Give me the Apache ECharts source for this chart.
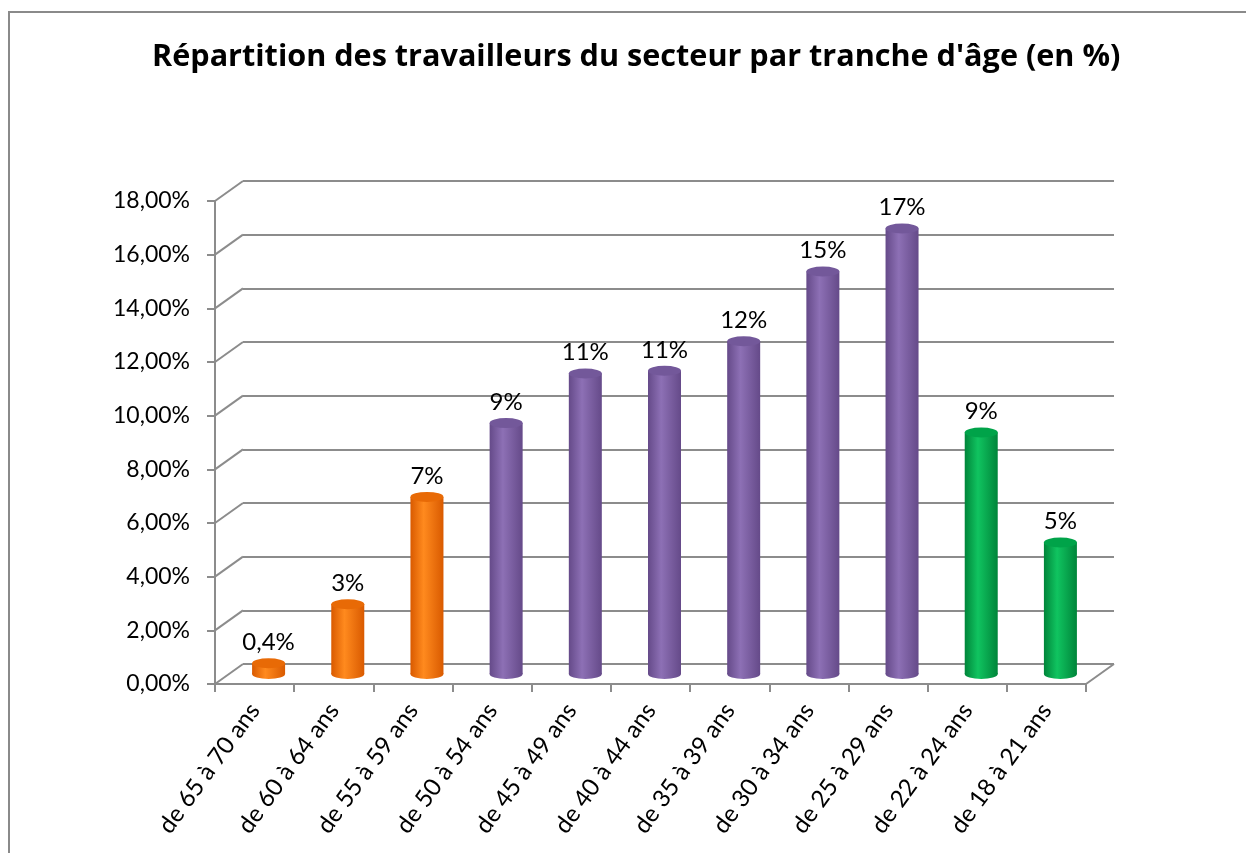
<!DOCTYPE html>
<html>
<head>
<meta charset="utf-8">
<title>Répartition par tranche d'âge</title>
<script src="https://cdn.jsdelivr.net/npm/echarts@6/dist/echarts.min.js"></script>
<style>
  html, body { margin: 0; padding: 0; background: #fff; }
  #chart { width: 1246px; height: 853px; }
</style>
</head>
<body>
<div id="chart"></div>
<script>
// data
var categories = ['de 65 à 70 ans', 'de 60 à 64 ans', 'de 55 à 59 ans', 'de 50 à 54 ans',
  'de 45 à 49 ans', 'de 40 à 44 ans', 'de 35 à 39 ans', 'de 30 à 34 ans',
  'de 25 à 29 ans', 'de 22 à 24 ans', 'de 18 à 21 ans'];
var values = [0.4, 2.6, 6.6, 9.35, 11.2, 11.3, 12.4, 15.0, 16.6, 9.0, 4.9];
var valueLabels = ['0,4%', '3%', '7%', '9%', '11%', '11%', '12%', '15%', '17%', '9%', '5%'];
var groups = ['senior', 'senior', 'senior', 'middle', 'middle', 'middle',
  'middle', 'middle', 'middle', 'young', 'young'];
var yTicks = [0, 2, 4, 6, 8, 10, 12, 14, 16, 18];

var FONT = 'Lato';
var depthX = 28, depthY = 20;
var front = { left: 215, top: 201, width: 871, height: 483 };
var BAR_W = 33;

var palette = {
  senior: { edge: '#d95a00', mid: '#ff8a1e', top: '#e86a06' },
  middle: { edge: '#654a89', mid: '#8d70b5', top: '#73589a' },
  young:  { edge: '#00853a', mid: '#10c460', top: '#00a349' }
};

function bodyColor(g) {
  var p = palette[g];
  return new echarts.graphic.LinearGradient(0, 0, 1, 0, [
    { offset: 0, color: p.edge },
    { offset: 0.4, color: p.mid },
    { offset: 1, color: p.edge }
  ]);
}

function gridAt(k) {
  return {
    left: front.left + depthX * k,
    top: front.top - depthY * k,
    width: front.width,
    height: front.height
  };
}

var chart = echarts.init(document.getElementById('chart'));

var yBase = { type: 'value', min: 0, max: 18, interval: 2 };

var option = {
  backgroundColor: '#fff',
  animation: false,
  title: {
    text: "Répartition des travailleurs du secteur par tranche d'âge (en %)",
    left: 147,
    top: 37,
    textStyle: { fontFamily: 'Open Sans', fontSize: 30.6, fontWeight: 'bold', color: '#000' }
  },
  graphic: [{
    type: 'rect',
    shape: { x: 9, y: 12, width: 1260, height: 880 },
    style: { fill: null, stroke: '#8a8a8a', lineWidth: 2 },
    silent: true
  }],
  grid: [gridAt(0), gridAt(0.5), gridAt(1)],
  xAxis: [
    {
      gridIndex: 0, type: 'category', data: categories,
      axisLine: { show: true, lineStyle: { color: '#8c8c8c', width: 2 } },
      axisTick: { show: true, length: 8, lineStyle: { color: '#8c8c8c', width: 2 } },
      axisLabel: { rotate: 54, margin: 22, interval: 0, color: '#000', fontFamily: FONT, fontSize: 24 }
    },
    { gridIndex: 1, type: 'category', data: categories, show: false },
    { gridIndex: 2, type: 'category', data: categories, show: false }
  ],
  yAxis: [
    Object.assign({}, yBase, {
      gridIndex: 0,
      axisLine: { show: true, lineStyle: { color: '#8c8c8c', width: 2 } },
      axisTick: { show: true, length: 8, lineStyle: { color: '#8c8c8c', width: 2 } },
      splitLine: { show: false },
      axisLabel: {
        margin: 25, color: '#000', fontFamily: FONT, fontSize: 23,
        formatter: function (v) { return v.toFixed(2).replace('.', ',') + '%'; }
      }
    }),
    Object.assign({}, yBase, { gridIndex: 1, show: false }),
    Object.assign({}, yBase, {
      gridIndex: 2,
      axisLine: { show: false }, axisTick: { show: false }, axisLabel: { show: false },
      splitLine: { show: true, lineStyle: { color: '#8c8c8c', width: 2 } }
    })
  ],
  series: [
    {
      // side wall / floor diagonals linking the front axis to the back wall
      type: 'custom',
      xAxisIndex: 0, yAxisIndex: 0,
      silent: true,
      data: yTicks.map(function (t) { return [0, t]; }),
      renderItem: function (params, api) {
        var cs = params.coordSys;
        var y = api.coord([0, api.value(1)])[1];
        var lines = [{
          type: 'line',
          shape: { x1: cs.x, y1: y, x2: cs.x + depthX, y2: y - depthY },
          style: { stroke: '#8c8c8c', lineWidth: 2 }
        }];
        if (api.value(1) === 0) {
          lines.push({
            type: 'line',
            shape: { x1: cs.x + cs.width, y1: y, x2: cs.x + cs.width + depthX, y2: y - depthY },
            style: { stroke: '#8c8c8c', lineWidth: 2 }
          });
        }
        return { type: 'group', children: lines };
      },
      z: 1
    },
    {
      type: 'bar',
      xAxisIndex: 1, yAxisIndex: 1,
      barWidth: BAR_W,
      data: values.map(function (v, i) {
        return { value: v, itemStyle: { color: bodyColor(groups[i]) } };
      }),
      z: 3
    },
    {
      type: 'pictorialBar',
      xAxisIndex: 1, yAxisIndex: 1,
      symbol: 'circle',
      symbolSize: [BAR_W, 10],
      symbolPosition: 'start',
      symbolOffset: [0, '50%'],
      barWidth: BAR_W,
      data: values.map(function (v, i) {
        return { value: v, itemStyle: { color: bodyColor(groups[i]) } };
      }),
      z: 2
    },
    {
      type: 'pictorialBar',
      xAxisIndex: 1, yAxisIndex: 1,
      symbol: 'circle',
      symbolSize: [BAR_W, 10],
      symbolPosition: 'end',
      symbolOffset: [0, '-50%'],
      barWidth: BAR_W,
      data: values.map(function (v, i) {
        return { value: v, itemStyle: { color: palette[groups[i]].top } };
      }),
      label: {
        show: true,
        position: 'top',
        distance: 4,
        color: '#000',
        fontFamily: FONT,
        fontSize: 24,
        formatter: function (p) { return valueLabels[p.dataIndex]; }
      },
      z: 4
    }
  ]
};

chart.setOption(option);
window.addEventListener('resize', function () { chart.resize(); });
</script>
</body>
</html>
